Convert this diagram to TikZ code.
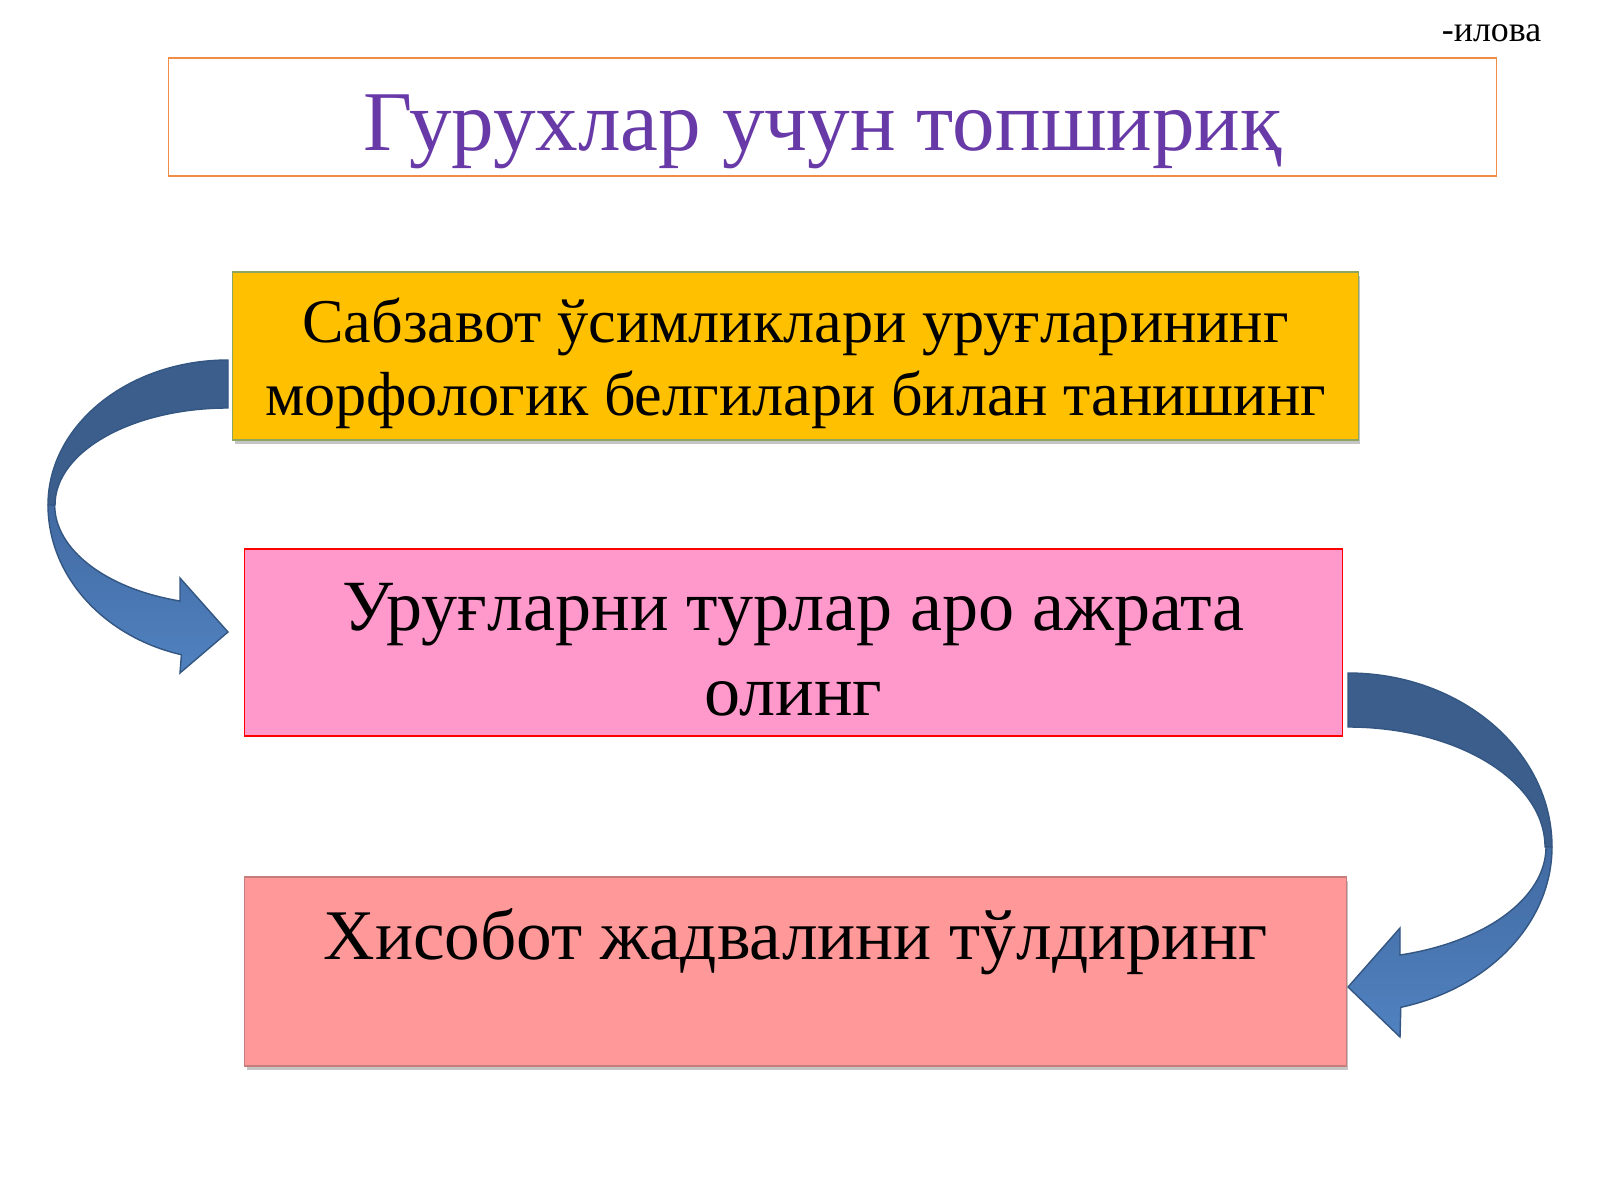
\documentclass[tikz,border=0pt]{standalone}
\usepackage{fontspec}
\setmainfont{Liberation Serif}
\usetikzlibrary{positioning, shadows}
\definecolor{titlepurple}{RGB}{104,58,168}
\definecolor{titleorange}{RGB}{240,140,70}
\definecolor{boxyellow}{RGB}{255,192,0}
\definecolor{boxgreen}{RGB}{140,165,95}
\definecolor{boxpink}{RGB}{255,153,204}
\definecolor{boxsalmon}{RGB}{255,153,153}
\definecolor{salmonedge}{RGB}{200,125,125}
\definecolor{arrowdark}{RGB}{59,94,140}
\definecolor{arrowmid}{RGB}{66,106,162}
\definecolor{arrowlight}{RGB}{80,130,192}
\definecolor{arrowedge}{RGB}{52,86,130}

\begin{document}
\begin{tikzpicture}[x=0.01cm, y=-0.01cm,
  box/.style={rectangle, inner sep=0pt},
  boxtext/.style={align=center, inner sep=0pt, text=black},
  boxshadow/.style={drop shadow={shadow xshift=0.6pt, shadow yshift=-1.2pt, fill=black!45}},
  arrowback/.style={draw=arrowedge, line width=0.4pt, fill=arrowdark},
  arrowfront/.style={draw=arrowedge, line width=0.4pt, top color=arrowmid, bottom color=arrowlight}]
\useasboundingbox[fill=white] (0,0) rectangle (1600,1200);
\node[box, draw=titleorange, minimum width=13.27cm, minimum height=1.18cm] (title) at (832.5,117) {};
\node[boxtext, text=titlepurple, font=\fontsize{24.2}{29}\selectfont] (titletext)
    at ([xshift=-2.9pt, yshift=-4.2pt]title) {Гурухлар учун топшириқ};
\node[anchor=east, inner sep=0pt, font=\fontsize{10.2}{12}\selectfont] (ilova) at (1542,33) {-илова};
\node[box, boxshadow, draw=boxgreen, fill=boxyellow, minimum width=11.25cm,
    minimum height=1.68cm] (b1) at (795.5,356) {};
\node[boxtext, font=\fontsize{17.7}{20.8}\selectfont] (t1) at ([yshift=-2.2pt]b1)
    {Сабзавот ўсимликлари уруғларининг\\морфологик белгилари билан танишинг};
\node[box, draw=red, fill=boxpink, minimum width=10.97cm, minimum height=1.87cm] (b2) at (793.5,642.5) {};
\node[boxtext, font=\fontsize{20.5}{24.2}\selectfont] (t2) at ([yshift=-2pt]b2)
    {Уруғларни турлар аро ажрата\\олинг};
\node[box, boxshadow, draw=salmonedge, fill=boxsalmon, minimum width=11.01cm,
    minimum height=1.89cm] (b3) at (795.5,971.5) {};
\node[boxtext, font=\fontsize{20.25}{24.2}\selectfont] (t3) at ([yshift=-1.5pt]b3)
    {Хисобот жадвалини тўлдиринг\\\mbox{}};
% left arrow, b1 to b2
\begin{scope}[shift={(228,505)}]
\path[arrowback] (0,-145) arc[start angle=270, end angle=180, x radius=180, y radius=145]
    -- (-173,0) arc[start angle=180, end angle=270, x radius=173, y radius=97] -- cycle;
\path[arrowfront] (-180,0) arc[start angle=180, end angle=105, x radius=180, y radius=155]
    -- (-48,168) -- (0,127) -- (-48,73) -- (-48,96)
    arc[start angle=106, end angle=180, x radius=173, y radius=100] -- cycle;
\end{scope}
% right arrow, b2 to b3
\begin{scope}[shift={(1348,847)}]
\path[arrowback] (0,-174) arc[start angle=270, end angle=360, x radius=204, y radius=174]
    -- (197,0) arc[start angle=0, end angle=-90, x radius=197, y radius=120] -- cycle;
\path[arrowfront] (204,0) arc[start angle=0, end angle=75, x radius=204, y radius=166]
    -- (52,190) -- (0,140) -- (52,81) -- (52,108)
    arc[start angle=75, end angle=0, x radius=197, y radius=112] -- cycle;
\end{scope}
\end{tikzpicture}
\end{document}
